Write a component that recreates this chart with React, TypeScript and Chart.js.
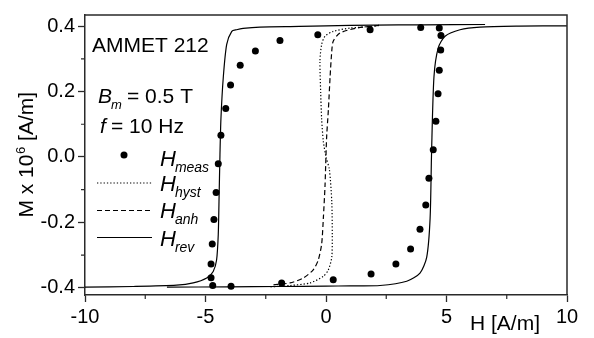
import React, { useEffect, useRef } from 'react';
import { Chart, registerables } from 'chart.js';

Chart.register(...registerables);

// ---- axes ----
const X_TICKS = [-10, -5, 0, 5, 10];
const X_MINOR = [-7.5, -2.5, 2.5, 7.5];
const Y_TICKS = [-0.4, -0.2, 0, 0.2, 0.4];
const Y_MINOR = [-0.3, -0.1, 0.1, 0.3];
const X_MIN = -10;
const X_MAX = 10;
const Y_MIN = -0.422;
const Y_MAX = 0.434;

// ---- H_meas (measured points) ----
const H_MEAS = [4.70, 3.93, 1.83, -0.34, -1.91, -2.93, -3.56, -3.96, -4.16, -4.36, -4.47, -4.56, -4.65, -4.72, -4.77, -4.77, -4.70, -3.94, -1.84, 0.30, 1.87, 2.90, 3.51, 3.90, 4.14, 4.27, 4.45, 4.56, 4.65, 4.70, 4.76, 4.77];
const M_MEAS = [0.394, 0.396, 0.389, 0.374, 0.356, 0.324, 0.280, 0.220, 0.148, 0.066, -0.021, -0.109, -0.191, -0.266, -0.327, -0.369, -0.393, -0.395, -0.385, -0.375, -0.358, -0.327, -0.281, -0.221, -0.147, -0.065, 0.022, 0.109, 0.193, 0.265, 0.327, 0.371];

// ---- H_rev (solid), descending and ascending branches ----
const H_REV_DESC = [6.6, 4, 2, 0, -1.1, -2.74, -3.44, -3.71, -3.91, -4.12, -4.26, -4.36, -4.40, -4.44, -4.47, -4.54, -4.68, -4.95, -5.51, -6.2, -8, -10];
const M_REV_DESC = [0.405, 0.404, 0.403, 0.401, 0.399, 0.397, 0.393, 0.389, 0.384, 0.344, 0.245, 0.116, 0.007, -0.137, -0.236, -0.315, -0.350, -0.370, -0.385, -0.392, -0.396, -0.398];
const H_REV_ASC = [-6.6, -4, -2, 0, 1, 2.24, 3.35, 3.90, 4.18, 4.32, 4.38, 4.48, 4.66, 4.94, 5.56, 6.39, 8, 10];
const M_REV_ASC = [-0.398, -0.397, -0.396, -0.395, -0.394, -0.393, -0.380, -0.355, -0.306, -0.187, 0.012, 0.245, 0.334, 0.369, 0.389, 0.397, 0.400, 0.401];

// ---- H_hyst (dotted) ----
const H_HYST = [2.2, 1.83, 1.0, 0.30, -0.04, -0.18, -0.25, -0.22, -0.18, -0.11, 0.0, 0.14, 0.24, 0.26, 0.24, 0.10, -0.11, -0.66, -1.49, -2.3];
const M_HYST = [0.402, 0.399, 0.394, 0.384, 0.369, 0.344, 0.295, 0.196, 0.116, 0.047, 0.0, -0.038, -0.137, -0.236, -0.306, -0.345, -0.365, -0.385, -0.393, -0.397];

// ---- H_anh (dashed) ----
const H_ANH = [2.2, 1.27, 0.58, 0.30, 0.24, 0.17, 0.10, 0.03, 0.0, -0.04, -0.11, -0.18, -0.32, -0.53, -0.94, -1.49, -2.2];
const M_ANH = [0.402, 0.394, 0.379, 0.354, 0.324, 0.245, 0.146, 0.066, 0.007, -0.087, -0.187, -0.266, -0.315, -0.345, -0.370, -0.385, -0.391];

const FONT = "'Liberation Sans', Arial, Helvetica, sans-serif";
const AXIS_COLOR = '#2a2a2a';
const DOT_DASH = [1.3, 2];
const DASH_DASH = [5, 3];

const pts = (xs: number[], ys: number[]) => xs.map((x, i) => ({ x, y: ys[i] }));

function drawHLabel(ctx: CanvasRenderingContext2D, x: number, y: number, sub: string) {
  ctx.font = `italic 22px ${FONT}`;
  ctx.fillText('H', x, y);
  const w = ctx.measureText('H').width;
  ctx.font = `italic 14px ${FONT}`;
  ctx.fillText(sub, x + w - 1, y + 6);
}

const decor = {
  id: 'decor',
  afterDraw(chart: any) {
    const { ctx, chartArea: a, scales } = chart;
    ctx.save();
    // frame (top + right)
    ctx.strokeStyle = AXIS_COLOR;
    ctx.lineWidth = 1.5;
    ctx.beginPath();
    ctx.moveTo(a.left, a.top);
    ctx.lineTo(a.right, a.top);
    ctx.lineTo(a.right, a.bottom);
    ctx.stroke();
    // minor ticks
    ctx.lineWidth = 1.2;
    ctx.beginPath();
    X_MINOR.forEach((v) => {
      const px = scales.x.getPixelForValue(v);
      ctx.moveTo(px, a.bottom);
      ctx.lineTo(px, a.bottom + 4);
    });
    Y_MINOR.forEach((v) => {
      const py = scales.y.getPixelForValue(v);
      ctx.moveTo(a.left - 4, py);
      ctx.lineTo(a.left, py);
    });
    ctx.stroke();

    ctx.fillStyle = '#000';
    ctx.textBaseline = 'alphabetic';
    ctx.textAlign = 'left';
    // annotations
    ctx.font = `21px ${FONT}`;
    ctx.fillText('AMMET 212', 92, 52);
    ctx.font = `italic 21px ${FONT}`;
    ctx.fillText('B', 98, 103);
    ctx.font = `italic 13px ${FONT}`;
    ctx.fillText('m', 111, 109);
    ctx.font = `21px ${FONT}`;
    ctx.fillText('= 0.5 T', 127, 103);
    ctx.font = `italic 21px ${FONT}`;
    ctx.fillText('f', 100, 133);
    ctx.font = `21px ${FONT}`;
    ctx.fillText('= 10 Hz', 111, 133);

    // legend
    ctx.strokeStyle = '#000';
    ctx.lineWidth = 1.2;
    ctx.beginPath();
    ctx.arc(124, 155, 3.5, 0, Math.PI * 2);
    ctx.fill();
    const legLine = (y: number, dash: number[]) => {
      ctx.setLineDash(dash);
      ctx.beginPath();
      ctx.moveTo(97, y);
      ctx.lineTo(152, y);
      ctx.stroke();
    };
    legLine(183, DOT_DASH);
    legLine(210.5, DASH_DASH);
    legLine(237.5, []);
    ctx.setLineDash([]);
    drawHLabel(ctx, 160, 166, 'meas');
    drawHLabel(ctx, 160, 191, 'hyst');
    drawHLabel(ctx, 160, 218, 'anh');
    drawHLabel(ctx, 160, 246, 'rev');

    // x title
    ctx.font = `21px ${FONT}`;
    ctx.fillText('H [A/m]', 470, 330);

    // y title (rotated)
    ctx.save();
    ctx.translate(33, (a.top + a.bottom) / 2);
    ctx.rotate(-Math.PI / 2);
    ctx.font = `21px ${FONT}`;
    const p1 = 'M x 10';
    const p3 = ' [A/m]';
    const w1 = ctx.measureText(p1).width;
    const w3 = ctx.measureText(p3).width;
    ctx.font = `13px ${FONT}`;
    const w2 = ctx.measureText('6').width;
    const total = w1 + w2 + w3;
    let x0 = -total / 2;
    ctx.font = `21px ${FONT}`;
    ctx.fillText(p1, x0, 0);
    ctx.font = `13px ${FONT}`;
    ctx.fillText('6', x0 + w1 + 0.5, -8);
    ctx.font = `21px ${FONT}`;
    ctx.fillText(p3, x0 + w1 + w2 + 0.5, 0);
    ctx.restore();

    ctx.restore();
  },
};

export default function App() {
  const ref = useRef<HTMLCanvasElement | null>(null);
  useEffect(() => {
    if (!ref.current) return;
    Chart.defaults.font.family = FONT;
    const lineDs = (label: string, data: any[], dash: number[]) => ({
      label,
      data,
      showLine: true,
      borderColor: '#000',
      borderWidth: 1.2,
      borderDash: dash,
      pointRadius: 0,
      tension: 0.25,
      fill: false,
    });
    const chart = new Chart(ref.current, {
      type: 'scatter',
      data: {
        datasets: [
          lineDs('H_hyst', pts(H_HYST, M_HYST), DOT_DASH),
          lineDs('H_anh', pts(H_ANH, M_ANH), DASH_DASH),
          lineDs('H_rev', pts(H_REV_DESC, M_REV_DESC), []),
          lineDs('H_rev (ascending)', pts(H_REV_ASC, M_REV_ASC), []),
          {
            label: 'H_meas',
            data: pts(H_MEAS, M_MEAS),
            showLine: false,
            pointRadius: 3.5,
            pointBackgroundColor: '#000',
            pointBorderWidth: 0,
          } as any,
        ],
      },
      options: {
        responsive: false,
        animation: false,
        devicePixelRatio: 1,
        layout: { padding: { top: 7, right: 27, left: 0, bottom: 0 } },
        plugins: { legend: { display: false }, tooltip: { enabled: false }, title: { display: false } },
        scales: {
          x: {
            type: 'linear',
            min: X_MIN,
            max: X_MAX,
            afterBuildTicks: (s: any) => {
              s.ticks = X_TICKS.map((v) => ({ value: v }));
            },
            afterFit: (s: any) => {
              s.height = 43;
            },
            grid: { drawOnChartArea: false, drawTicks: true, tickLength: 7, tickColor: AXIS_COLOR, tickWidth: 1.3 },
            border: { display: true, color: AXIS_COLOR, width: 1.5 },
            ticks: {
              color: '#000',
              font: { size: 20, family: FONT },
              padding: 3,
              maxRotation: 0,
              autoSkip: false,
              callback: (v: any) => String(v),
            },
          },
          y: {
            type: 'linear',
            min: Y_MIN,
            max: Y_MAX,
            afterBuildTicks: (s: any) => {
              s.ticks = Y_TICKS.map((v) => ({ value: v }));
            },
            afterFit: (s: any) => {
              s.width = 85;
            },
            grid: { drawOnChartArea: false, drawTicks: true, tickLength: 7, tickColor: AXIS_COLOR, tickWidth: 1.3 },
            border: { display: true, color: AXIS_COLOR, width: 1.5 },
            ticks: {
              color: '#000',
              font: { size: 20, family: FONT },
              padding: 3,
              autoSkip: false,
              callback: (v: any) => Number(v).toFixed(1),
            },
          },
        },
      },
      plugins: [decor],
    });
    return () => chart.destroy();
  }, []);
  return (
    <div style={{ position: 'absolute', left: 0, top: 0, width: 594, height: 338, background: '#fff' }}>
      <canvas ref={ref} width={594} height={338} style={{ display: 'block', width: 594, height: 338 }} />
    </div>
  );
}
